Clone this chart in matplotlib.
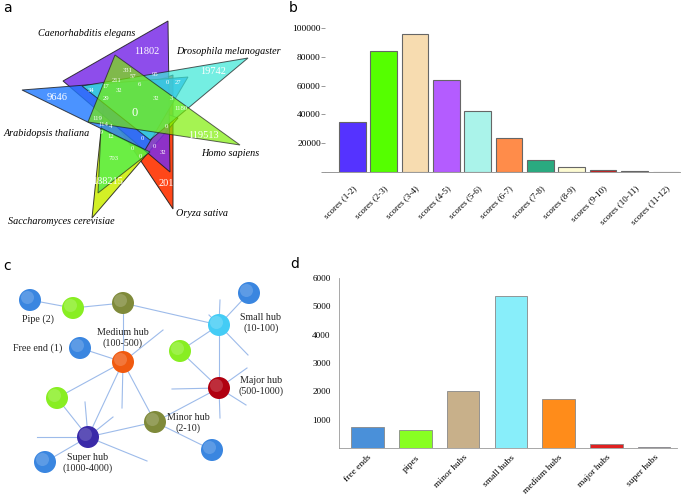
import numpy as np
import matplotlib
matplotlib.use("Agg")
import matplotlib.pyplot as plt
from matplotlib.patches import Polygon, Circle

plt.rcParams['font.family'] = ['Liberation Serif', 'DejaVu Serif']

# ---- data ----
species = ["Caenorhabditis elegans", "Drosophila melanogaster", "Arabidopsis thaliana",
           "Homo sapiens", "Oryza sativa", "Saccharomyces cerevisiae"]
venn_counts = ["11802", "19742", "9646", "119513", "201", "188215", "0",
               "331", "57", "95", "0", "27", "34", "17", "32", "6", "211", "32",
               "3", "29", "1180", "0", "119", "114", "4", "219", "12", "0", "0",
               "0", "32", "703", "0"]

score_labels = ["scores (1-2)", "scores (2-3)", "scores (3-4)", "scores (4-5)",
                "scores (5-6)", "scores (6-7)", "scores (7-8)", "scores (8-9)",
                "scores (9-10)", "scores (10-11)", "scores (11-12)"]
score_values = [35000, 84000, 95600, 64000, 42400, 23600, 8100, 3500, 1600, 700, 250]
score_colors = ["#5533ff", "#55ff00", "#f7dcb0", "#b45cff", "#aaf3ea", "#ff8c4a",
                "#2aaa80", "#fdfbd2", "#c42020", "#8a6f9a", "#9a9a9a"]

hub_labels = ["free ends", "pipes", "minor hubs", "small hubs", "medium hubs",
              "major hubs", "super hubs"]
hub_values = [740, 635, 2010, 5365, 1730, 153, 47]
hub_colors = ["#4a90d9", "#88ff22", "#c8b08a", "#88eefa", "#ff8c1a", "#e02020", "#7b68b0"]

# ---- layout (pixel coords of the 685x497 canvas) ----
# drawn bottom to top
triangles = [
    ((173, 209), (173, 75), (100, 100)),    # Oryza
    ((92, 218), (105, 92), (178, 118)),     # Saccharomyces
    ((168, 21), (63, 81), (170, 172)),      # C. elegans
    ((22, 90), (188, 77), (145, 150)),      # Arabidopsis
    ((248, 58), (82, 86), (150, 140)),      # Drosophila
    ((98, 193), (101, 128), (150, 152)),    # inner green
    ((240, 145), (88, 122), (115, 55)),     # Homo sapiens
]
tri_colors = ["#ff3300", "#ccee00", "#7a2ee8", "#1e78ff", "#3ee8d8", "#33ee55", "#7aee00"]
tri_alpha = [0.9, 0.85, 0.85, 0.8, 0.72, 0.65, 0.68]
venn_pos = [(147, 52), (213, 72), (57, 98), (203, 135), (166, 183), (108, 182), (135, 113),
            (128, 70), (133, 77), (155, 75), (167, 83), (178, 83), (91, 90), (106, 87),
            (119, 90), (139, 84), (117, 80), (156, 98), (171, 99), (106, 98), (181, 108),
            (166, 126), (97, 118), (103, 125), (111, 126), (99, 133), (111, 137),
            (142, 138), (154, 146), (132, 148), (163, 153), (114, 159), (140, 157)]
species_pos = [(87, 34, 'center'), (176, 52, 'left'), (4, 134, 'left'),
               (230, 153, 'center'), (202, 213, 'center'), (61, 222, 'center')]

fig = plt.figure(figsize=(6.85, 4.97), dpi=100)
bg = fig.add_axes([0, 0, 1, 1])
bg.set_xlim(0, 685)
bg.set_ylim(497, 0)
bg.axis('off')

# panel letters
for letter, (x, y) in zip("abcd", [(3, 8), (289, 8), (3, 266), (290, 264)]):
    bg.text(x, y, letter, fontsize=10, family='DejaVu Sans', va='center')

# ---- panel a: venn of triangles ----
for tri, col, al in zip(triangles, tri_colors, tri_alpha):
    bg.add_patch(Polygon(tri, closed=True, facecolor=col, alpha=al,
                         edgecolor='#1a1a1a', lw=0.7))
for i, (txt, (x, y)) in enumerate(zip(venn_counts, venn_pos)):
    fs = 7.5 if i < 6 else (9 if i == 6 else 4.8)
    bg.text(x, y, txt, color='white', fontsize=fs, ha='center', va='center')
for name, (x, y, ha) in zip(species, species_pos):
    bg.text(x, y, name, style='italic', fontsize=7.3, ha=ha, va='center')

# ---- panel c: network sketch ----
nodes = {
    'b1': (30, 300, '#3a86e0'), 'l1': (73, 308, '#88ee22'), 'o1': (123, 303, '#7f8a3a'),
    'cy': (219, 325, '#44ccf5'), 'b2': (249, 293, '#3a86e0'), 'bf': (80, 348, '#3a86e0'),
    'or': (123, 362, '#f05a10'), 'l2': (180, 351, '#88ee22'), 'rd': (219, 388, '#b00010'),
    'l3': (57, 398, '#88ee22'), 'mi': (155, 422, '#7f8a3a'), 'su': (88, 437, '#3a2aa8'),
    'b3': (45, 462, '#3a86e0'), 'b4': (212, 450, '#3a86e0'),
}
links = [('b1', 'l1'), ('l1', 'o1'), ('o1', 'cy'), ('o1', 'or'), ('cy', 'b2'), ('cy', 'l2'),
         ('cy', 'rd'), ('l2', 'rd'), ('bf', 'or'), ('or', 'l3'), ('or', 'su'), ('or', 'mi'),
         ('l3', 'su'), ('su', 'mi'), ('su', 'b3'), ('mi', 'rd'), ('mi', 'b4')]
stubs = [('or', (163, 330)), ('or', (122, 408)), ('cy', (220, 300)), ('cy', (209, 315)),
         ('cy', (248, 355)), ('rd', (172, 389)), ('rd', (247, 368)), ('rd', (246, 405)),
         ('rd', (220, 418)), ('su', (37, 437)), ('su', (85, 402)), ('su', (113, 417)),
         ('su', (147, 461))]
for a, b in links:
    bg.plot([nodes[a][0], nodes[b][0]], [nodes[a][1], nodes[b][1]], color='#9dbbea', lw=0.8, zorder=1)
for a, (x, y) in stubs:
    bg.plot([nodes[a][0], x], [nodes[a][1], y], color='#9dbbea', lw=0.8, zorder=1)
for x, y, col in nodes.values():
    bg.add_patch(Circle((x, y), 11, facecolor=col, edgecolor='none', zorder=2))
    bg.add_patch(Circle((x - 2.5, y - 2.5), 6.5, facecolor='white', alpha=0.18,
                        edgecolor='none', zorder=3))

node_text = [(38, 319, "Pipe (2)"), (123, 338, "Medium hub\n(100-500)"),
             (38, 348, "Free end (1)"), (261, 323, "Small hub\n(10-100)"),
             (261, 386, "Major hub\n(500-1000)"), (188, 423, "Minor hub\n(2-10)"),
             (88, 463, "Super hub\n(1000-4000)")]
for x, y, t in node_text:
    bg.text(x, y, t, fontsize=7.2, ha='center', va='center', linespacing=1.25, color='#222222')

# ---- panel b ----
axb = fig.add_axes([325 / 685, 1 - 172 / 497, 355 / 685, 144 / 497])
xb = np.arange(len(score_values))
axb.bar(xb, score_values, width=0.85, color=score_colors, edgecolor='#666666', linewidth=0.8)
axb.set_xlim(-0.87, 10.45)
axb.set_ylim(0, 100000)
axb.set_yticks([0, 20000, 40000, 60000, 80000, 100000])
axb.set_yticklabels(["", "20000", "40000", "60000", "80000", "100000"])
axb.set_xticks(xb)
axb.set_xticklabels(score_labels, rotation=45, ha='right', rotation_mode='anchor')
for s in ['top', 'right', 'left']:
    axb.spines[s].set_visible(False)
axb.spines['bottom'].set_color('#888888')
axb.spines['bottom'].set_linewidth(0.6)
axb.tick_params(axis='y', labelsize=6.8, length=3, width=0.6, color='#888888', pad=0)
axb.tick_params(axis='x', labelsize=6.5, length=0, pad=9)

# ---- panel d ----
axd = fig.add_axes([339 / 685, 1 - 448 / 497, 338 / 685, 170 / 497])
xd = np.arange(len(hub_values))
axd.bar(xd, hub_values, width=0.68, color=hub_colors, edgecolor='#888888', linewidth=0.6)
axd.set_xlim(-0.6, 6.48)
axd.set_ylim(0, 6000)
axd.set_yticks([1000, 2000, 3000, 4000, 5000, 6000])
axd.set_xticks(xd)
axd.set_xticklabels(hub_labels, rotation=45, ha='right', rotation_mode='anchor')
for s in ['top', 'right']:
    axd.spines[s].set_visible(False)
for s in ['left', 'bottom']:
    axd.spines[s].set_color('#999999')
    axd.spines[s].set_linewidth(0.6)
axd.tick_params(axis='y', labelsize=6.6, length=0, pad=6)
axd.tick_params(axis='x', labelsize=6.8, length=0, pad=4)

fig.savefig("out.png", dpi=100)
